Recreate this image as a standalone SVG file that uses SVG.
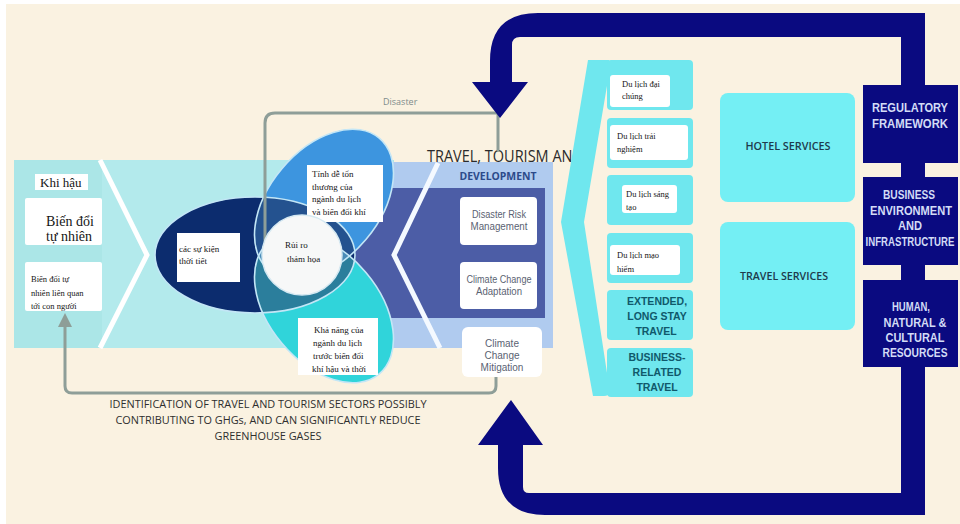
<svg xmlns="http://www.w3.org/2000/svg" width="960" height="524" viewBox="0 0 960 524">
<defs>
<style>
.vn{font-family:"Liberation Serif","DejaVu Serif",serif;fill:#151515;}
.sans{font-family:"Open Sans","Liberation Sans",sans-serif;}
.wo{fill:#ffffff;}
.nv{fill:#0A0A80;}
.nvt{font-family:"Liberation Sans","Open Sans",sans-serif;font-weight:700;font-size:12px;fill:#D3DCF6;text-anchor:middle;}
.cyb{fill:#6FE7EE;}
.cyt{font-family:"Liberation Sans","Open Sans",sans-serif;font-weight:700;font-size:10.5px;fill:#10596B;text-anchor:middle;}
.svb{fill:#74EFF4;}
.svt{font-family:"Open Sans","Liberation Sans",sans-serif;font-weight:600;font-size:11px;fill:#1E3B4C;text-anchor:middle;}
.dev{fill:#ffffff;}
.devt{font-family:"Liberation Sans","Open Sans",sans-serif;font-size:10px;fill:#5A6272;text-anchor:middle;}
.grey{fill:none;stroke:#8E9E98;stroke-width:3;stroke-linecap:round;stroke-linejoin:round;}
.outl{fill:none;stroke:#C3E6F6;stroke-width:1.6;}
</style>
<clipPath id="cNavy"><ellipse cx="255" cy="255" rx="100" ry="58"/></clipPath>
<clipPath id="cBlue"><ellipse cx="0" cy="0" rx="86" ry="55" transform="translate(324,204) rotate(-50)"/></clipPath>
</defs>

<!-- background -->
<rect x="0" y="0" width="960" height="524" fill="#ffffff"/>
<rect x="6" y="4" width="954" height="520" fill="#FAF2E1"/>

<!-- bands -->
<g id="bands">
  <rect x="14" y="160" width="380" height="188" fill="#ABE6E7"/>
  <rect x="102" y="160" width="290" height="188" fill="#B3EAEC"/>
  <rect x="385" y="162" width="168" height="186" fill="#B0CBEF"/>
  <rect x="340" y="188" width="205" height="130" fill="#4C5DA6"/>
  <polyline points="100,160 147,255 100,348" fill="none" stroke="#ffffff" stroke-width="5"/>
  <polyline points="438,163 394,255 440,348" fill="none" stroke="#F4F9FF" stroke-width="5"/>
</g>

<!-- title -->
<g id="title">
  <text class="sans" x="427" y="162" font-size="15.5" fill="#2B2B2B" textLength="156" lengthAdjust="spacingAndGlyphs">TRAVEL, TOURISM AND</text>
  <text class="sans" x="498" y="180" font-size="11" font-weight="700" fill="#2C4A8A" text-anchor="middle" textLength="77" lengthAdjust="spacingAndGlyphs">DEVELOPMENT</text>
</g>

<!-- left nodes -->
<g id="node-khi-hau">
  <rect class="wo" x="35" y="174" width="53" height="16"/>
  <text class="vn" x="40" y="187" font-size="13">Khi hậu</text>
</g>
<g id="node-bien-doi-tu-nhien">
  <rect class="wo" x="25" y="198" width="77" height="47" rx="2"/>
  <text class="vn" x="46" y="226" font-size="14">Biến đổi</text>
  <text class="vn" x="46" y="241" font-size="14">tự nhiên</text>
</g>
<g id="node-bien-doi-con-nguoi">
  <rect class="wo" x="25" y="262" width="77" height="49" rx="2"/>
  <text class="vn" x="31" y="282" font-size="8.5">Biến đổi tự</text>
  <text class="vn" x="31" y="296" font-size="8.5">nhiên liên quan</text>
  <text class="vn" x="31" y="309" font-size="8.5">tới con người</text>
</g>

<!-- ellipses -->
<g id="node-weather-events">
  <ellipse cx="255" cy="255" rx="100" ry="58" fill="#0C2C6E"/>
</g>
<g id="node-vulnerability">
  <ellipse cx="0" cy="0" rx="86" ry="55" transform="translate(324,204) rotate(-50)" fill="#3D95DF"/>
</g>
<g id="node-capacity">
  <ellipse cx="0" cy="0" rx="86" ry="55" transform="translate(324,308) rotate(50)" fill="#30D4DA"/>
</g>
<g id="overlaps">
  <g clip-path="url(#cNavy)">
    <ellipse cx="0" cy="0" rx="86" ry="55" transform="translate(324,204) rotate(-50)" fill="#24528F"/>
    <ellipse cx="0" cy="0" rx="86" ry="55" transform="translate(324,308) rotate(50)" fill="#2B7E9C"/>
  </g>
  <g clip-path="url(#cBlue)">
    <ellipse cx="0" cy="0" rx="86" ry="55" transform="translate(324,308) rotate(50)" fill="#4A8CB8"/>
  </g>
  <ellipse class="outl" cx="255" cy="255" rx="100" ry="58"/>
  <ellipse class="outl" cx="0" cy="0" rx="86" ry="55" transform="translate(324,204) rotate(-50)"/>
  <ellipse class="outl" cx="0" cy="0" rx="86" ry="55" transform="translate(324,308) rotate(50)"/>
</g>
<g id="labels-ellipses">
  <rect class="wo" x="177" y="233" width="63" height="49"/>
  <text class="vn" x="179" y="252" font-size="9">các sự kiện</text>
  <text class="vn" x="179" y="264" font-size="9">thời tiết</text>
  <rect class="wo" x="307" y="165" width="76" height="57"/>
  <text class="vn" x="312" y="177" font-size="9">Tính dễ tổn</text>
  <text class="vn" x="312" y="190" font-size="9">thương của</text>
  <text class="vn" x="312" y="202" font-size="9">ngành du lịch</text>
  <text class="vn" x="312" y="215" font-size="9">và biến đổi khí</text>
  <rect class="wo" x="298" y="318" width="80" height="57"/>
  <text class="vn" x="314" y="333" font-size="9">Khả năng của</text>
  <text class="vn" x="313" y="346" font-size="9">ngành du lịch</text>
  <text class="vn" x="313" y="359" font-size="9">trước biến đổi</text>
  <text class="vn" x="312" y="372" font-size="9">khí hậu và thời</text>
</g>

<!-- connectors -->
<g id="connectors">
  <path class="grey" d="M 278 246 L 270 246 Q 265 246 265 240 L 265 123 Q 265 113 275 113 L 500 113"/>
  <path class="grey" d="M 498 113 L 498 150"/>
  <path class="grey" d="M 496 377 L 496 386 Q 496 393 489 393 L 72 393 Q 65 393 65 386 L 65 325"/>
  <polygon points="65,313 58,327 72,327" fill="#8E9E98"/>
  <text class="sans" x="383" y="105" font-size="9" fill="#7E8C8C">Disaster</text>
  <path class="nv" d="M 925 85 L 925 13 L 538 13 Q 490 13 490 61 L 490 82 L 472 82 L 500 118 L 528 82 L 512 82 L 512 45 Q 512 37 520 37 L 901 37 L 901 85 Z"/>
  <path class="nv" d="M 901 367 L 901 493 L 529 493 Q 523 493 523 487 L 523 445 L 543 445 L 511 400 L 478 445 L 498 445 L 498 468 Q 498 515 545 515 L 925 515 L 925 367 Z"/>
  <rect class="nv" x="901" y="162" width="24" height="16"/>
  <rect class="nv" x="901" y="264" width="24" height="17"/>
</g>

<!-- circle -->
<g id="node-disaster-risk">
  <circle cx="302" cy="255" r="40" fill="#F7F8F8" stroke="#D6E9F2" stroke-width="1.5"/>
  <text class="vn" x="285" y="248" font-size="9">Rủi ro</text>
  <text class="vn" x="287" y="262" font-size="9">thảm họa</text>
</g>

<!-- development boxes -->
<g id="node-disaster-risk-management">
  <rect class="dev" x="460" y="197" width="77" height="48" rx="4"/>
  <text class="devt" x="499" y="218" textLength="54" lengthAdjust="spacingAndGlyphs">Disaster Risk</text>
  <text class="devt" x="499" y="230" textLength="57" lengthAdjust="spacingAndGlyphs">Management</text>
</g>
<g id="node-climate-change-adaptation">
  <rect class="dev" x="460" y="262" width="77" height="47" rx="4"/>
  <text class="devt" x="499" y="283" textLength="65" lengthAdjust="spacingAndGlyphs">Climate Change</text>
  <text class="devt" x="499" y="295" textLength="46" lengthAdjust="spacingAndGlyphs">Adaptation</text>
</g>
<g id="node-climate-change-mitigation">
  <rect class="dev" x="462" y="327" width="80" height="50" rx="6"/>
  <text class="devt" x="502" y="347">Climate</text>
  <text class="devt" x="502" y="359">Change</text>
  <text class="devt" x="502" y="371">Mitigation</text>
</g>

<!-- bottom caption -->
<g id="caption">
  <text class="sans" x="268" y="408" font-size="10.5" fill="#2E2E2E" text-anchor="middle" textLength="317" lengthAdjust="spacingAndGlyphs">IDENTIFICATION OF TRAVEL AND TOURISM SECTORS POSSIBLY</text>
  <text class="sans" x="268" y="424" font-size="10.5" fill="#2E2E2E" text-anchor="middle" textLength="305" lengthAdjust="spacingAndGlyphs">CONTRIBUTING TO GHGs, AND CAN SIGNIFICANTLY REDUCE</text>
  <text class="sans" x="268" y="440" font-size="10.5" fill="#2E2E2E" text-anchor="middle" textLength="107" lengthAdjust="spacingAndGlyphs">GREENHOUSE GASES</text>
</g>

<!-- tourism types bracket -->
<g id="bracket">
  <path class="cyb" d="M 588 60 L 609 60 L 609 74 L 584 222 L 609 386 L 609 392 Q 609 396 604 396 L 593 396 L 561 222 Z"/>
</g>
<g id="node-du-lich-dai-chung">
  <rect class="cyb" x="607" y="60" width="86" height="50" rx="4"/>
  <rect class="wo" x="610" y="75" width="60" height="32" rx="3"/>
  <text class="vn" x="622" y="87" font-size="8.5">Du lịch đại</text>
  <text class="vn" x="622" y="99" font-size="8.5">chúng</text>
</g>
<g id="node-du-lich-trai-nghiem">
  <rect class="cyb" x="607" y="118" width="86" height="50" rx="4"/>
  <rect class="wo" x="610" y="125" width="78" height="35" rx="3"/>
  <text class="vn" x="617" y="139" font-size="8.5">Du lịch trải</text>
  <text class="vn" x="617" y="152" font-size="8.5">nghiệm</text>
</g>
<g id="node-du-lich-sang-tao">
  <rect class="cyb" x="607" y="175" width="86" height="50" rx="4"/>
  <rect class="wo" x="622" y="185" width="55" height="28" rx="3"/>
  <text class="vn" x="626" y="197" font-size="8.5">Du lịch sáng</text>
  <text class="vn" x="626" y="210" font-size="8.5">tạo</text>
</g>
<g id="node-du-lich-mao-hiem">
  <rect class="cyb" x="607" y="233" width="86" height="50" rx="4"/>
  <rect class="wo" x="610" y="245" width="70" height="30" rx="3"/>
  <text class="vn" x="617" y="258" font-size="8.5">Du lịch mạo</text>
  <text class="vn" x="617" y="272" font-size="8.5">hiểm</text>
</g>
<g id="node-extended-long-stay">
  <rect class="cyb" x="607" y="290" width="86" height="50" rx="4"/>
  <text class="cyt" x="657" y="305">EXTENDED,</text>
  <text class="cyt" x="657" y="320">LONG STAY</text>
  <text class="cyt" x="656" y="335">TRAVEL</text>
</g>
<g id="node-business-related">
  <rect class="cyb" x="607" y="348" width="86" height="49" rx="4"/>
  <text class="cyt" x="657" y="361">BUSINESS-</text>
  <text class="cyt" x="657" y="376">RELATED</text>
  <text class="cyt" x="657" y="391">TRAVEL</text>
</g>

<!-- services -->
<g id="node-hotel-services">
  <rect class="svb" x="720" y="93" width="135" height="109" rx="8"/>
  <text class="svt" x="788" y="150" textLength="85" lengthAdjust="spacingAndGlyphs">HOTEL SERVICES</text>
</g>
<g id="node-travel-services">
  <rect class="svb" x="720" y="222" width="135" height="108" rx="8"/>
  <text class="svt" x="784" y="280" textLength="88" lengthAdjust="spacingAndGlyphs">TRAVEL SERVICES</text>
</g>

<!-- navy column -->
<g id="node-regulatory-framework">
  <rect class="nv" x="863" y="85" width="95" height="78"/>
  <text class="nvt" x="910" y="112" textLength="76" lengthAdjust="spacingAndGlyphs">REGULATORY</text>
  <text class="nvt" x="910" y="128" textLength="76" lengthAdjust="spacingAndGlyphs">FRAMEWORK</text>
</g>
<g id="node-business-environment">
  <rect class="nv" x="863" y="177" width="95" height="88"/>
  <text class="nvt" x="909" y="199" textLength="52" lengthAdjust="spacingAndGlyphs">BUSINESS</text>
  <text class="nvt" x="911" y="215" textLength="82" lengthAdjust="spacingAndGlyphs">ENVIRONMENT</text>
  <text class="nvt" x="910" y="230" textLength="24" lengthAdjust="spacingAndGlyphs">AND</text>
  <text class="nvt" x="910" y="246" font-size="9.5" textLength="89" lengthAdjust="spacingAndGlyphs">INFRASTRUCTURE</text>
</g>
<g id="node-human-natural-cultural">
  <rect class="nv" x="863" y="280" width="95" height="87"/>
  <text class="nvt" x="911" y="311" textLength="38" lengthAdjust="spacingAndGlyphs">HUMAN,</text>
  <text class="nvt" x="915" y="327" textLength="63" lengthAdjust="spacingAndGlyphs">NATURAL &amp;</text>
  <text class="nvt" x="915" y="342" textLength="59" lengthAdjust="spacingAndGlyphs">CULTURAL</text>
  <text class="nvt" x="915" y="357" textLength="65" lengthAdjust="spacingAndGlyphs">RESOURCES</text>
</g>
</svg>
